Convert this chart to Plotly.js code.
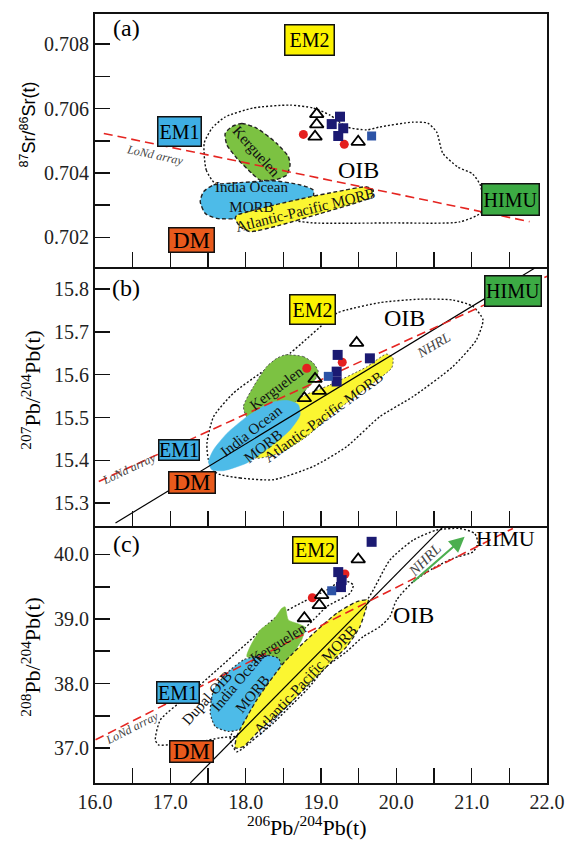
<!DOCTYPE html>
<html>
<head>
<meta charset="utf-8">
<script src="https://cdn.plot.ly/plotly-3.0.1.min.js"></script>
<style>html,body{margin:0;padding:0;background:#fff;}#chart{width:579px;height:841px;}</style>
</head>
<body>
<div id="chart"></div>
<script>
// ---------------- shared x axis ----------------
const xRange = [16, 22];
const xTickVals = [16, 17, 18, 19, 20, 21, 22];
const xTickText = ['16.0', '17.0', '18.0', '19.0', '20.0', '21.0', '22.0'];
const xMinorVals = [16.5, 17.5, 18.5, 19.5, 20.5, 21.5];

// ---------------- panel (a): 87Sr/86Sr vs 206Pb/204Pb ----------------
const aRange = [0.70108, 0.70894];
const aTickVals = [0.702, 0.704, 0.706, 0.708];
const aTickText = ['0.702', '0.704', '0.706', '0.708'];
const aMinorVals = [0.703, 0.705, 0.707];

const aOIB_x = [17.609, 17.477, 17.450, 17.556, 17.728, 18.099, 18.589, 18.894, 19.119, 19.344, 19.609, 19.781, 20.219, 20.417, 20.536, 20.616, 20.815, 21.013, 21.119, 21.132, 20.841, 19.954, 18.894, 18.629];
const aOIB_y = [0.70363, 0.70409, 0.70493, 0.70540, 0.70574, 0.70602, 0.70611, 0.70602, 0.70580, 0.70543, 0.70534, 0.70543, 0.70558, 0.70555, 0.70527, 0.70462, 0.70419, 0.70397, 0.70360, 0.70279, 0.70248, 0.70245, 0.70245, 0.70254];

const aKerg_x = [17.817, 17.950, 18.148, 18.413, 18.567, 18.589, 18.546, 18.413, 18.192, 18.082, 17.883, 17.751, 17.728];
const aKerg_y = [0.70544, 0.70554, 0.70539, 0.70492, 0.70451, 0.70425, 0.70394, 0.70380, 0.70378, 0.70399, 0.70446, 0.70487, 0.70523];

const aIndia_x = [17.441, 17.574, 17.927, 18.369, 18.722, 18.898, 18.876, 18.457, 18.016, 17.619, 17.464, 17.397];
const aIndia_y = [0.70342, 0.70363, 0.70370, 0.70376, 0.70363, 0.70347, 0.70311, 0.70274, 0.70259, 0.70259, 0.70274, 0.70311];

const aAtl_x = [17.861, 17.927, 18.060, 18.457, 18.987, 19.517, 19.672, 19.693, 19.605, 19.208, 18.854, 18.369, 18.016, 17.883];
const aAtl_y = [0.70259, 0.70233, 0.70218, 0.70238, 0.70274, 0.70311, 0.70326, 0.70347, 0.70357, 0.70342, 0.70326, 0.70300, 0.70279, 0.70269];

const aLoNd_x = [16.117, 21.768];
const aLoNd_y = [0.70523, 0.70249];

const aRed_x = [18.766, 19.309];
const aRed_y = [0.70520, 0.70489];
const aTri_x = [18.943, 18.943, 18.921, 19.494];
const aTri_y = [0.70583, 0.70551, 0.70513, 0.70497];
const aNavy_x = [19.252, 19.142, 19.295, 19.229];
const aNavy_y = [0.70575, 0.70552, 0.70539, 0.70515];
const aBlue_x = [19.672];
const aBlue_y = [0.70515];

const aBoxText = ['EM2', 'EM1', 'DM', 'HIMU'];
const aBox_x = [18.850, 17.126, 17.285, 21.517];
const aBox_y = [0.70813, 0.70529, 0.70192, 0.70318];

const aLabelText = ['OIB', 'Kerguelen', 'India Ocean<br>MORB', 'Atlantic-Pacific MORB', 'LoNd array'];
const aLabel_x = [19.494, 18.148, 18.073, 18.788, 16.801];
const aLabel_y = [0.70409, 0.70466, 0.70326, 0.70285, 0.70456];

// ---------------- panel (b): 207Pb/204Pb vs 206Pb/204Pb ----------------
const bRange = [15.247, 15.851];
const bTickVals = [15.3, 15.4, 15.5, 15.6, 15.7, 15.8];
const bTickText = ['15.3', '15.4', '15.5', '15.6', '15.7', '15.8'];

const bOIB_x = [17.619, 17.927, 18.368, 18.898, 19.340, 19.781, 20.223, 20.752, 21.062, 21.150, 21.017, 20.752, 20.311, 19.781, 19.340, 19.208, 18.589, 18.192, 17.838, 17.574, 17.486, 17.507];
const bOIB_y = [15.370, 15.359, 15.355, 15.386, 15.432, 15.502, 15.549, 15.619, 15.681, 15.728, 15.759, 15.774, 15.776, 15.768, 15.751, 15.743, 15.650, 15.603, 15.557, 15.502, 15.440, 15.401];

const bKerg_x = [18.523, 18.766, 18.898, 18.964, 18.921, 18.722, 18.699, 18.325, 18.016, 17.971, 18.103, 18.281, 18.413];
const bKerg_y = [15.646, 15.642, 15.627, 15.607, 15.588, 15.549, 15.530, 15.530, 15.502, 15.526, 15.572, 15.619, 15.638];

const bIndia_x = [17.552, 17.706, 18.016, 18.325, 18.589, 18.722, 18.699, 18.546, 18.325, 18.016, 17.751, 17.574, 17.507];
const bIndia_y = [15.378, 15.376, 15.394, 15.432, 15.471, 15.506, 15.530, 15.540, 15.534, 15.502, 15.463, 15.425, 15.397];

const bAtl_x = [18.722, 19.119, 19.605, 19.870, 19.954, 19.940, 19.605, 19.163, 18.811, 18.457, 18.148, 18.060, 18.457];
const bAtl_y = [15.546, 15.576, 15.618, 15.648, 15.639, 15.616, 15.569, 15.510, 15.456, 15.417, 15.405, 15.413, 15.495];

const bNHRL_x = [16.272, 21.834];
const bNHRL_y = [15.254, 15.848];
const bLoNd_x = [16.050, 22.033];
const bLoNd_y = [15.351, 15.832];

const bRed_x = [18.811, 19.282];
const bRed_y = [15.615, 15.629];
const bTri_x = [19.473, 18.921, 18.977, 18.779];
const bTri_y = [15.674, 15.590, 15.562, 15.545];
const bNavy_x = [19.221, 19.649, 19.208, 19.208];
const bNavy_y = [15.646, 15.638, 15.607, 15.584];
const bBlue_x = [19.097];
const bBlue_y = [15.596];

const bBoxText = ['HIMU', 'EM2', 'EM1', 'DM'];
const bBox_x = [21.543, 18.890, 17.119, 17.291];
const bBox_y = [15.795, 15.751, 15.425, 15.348];

const bLabelText = ['OIB', 'Kerguelen', 'India Ocean<br>MORB', 'Atlantic-Pacific MORB', 'NHRL', 'LoNd array'];
const bLabel_x = [20.113, 18.413, 18.152, 19.031, 20.487, 16.448];
const bLabel_y = [15.732, 15.569, 15.450, 15.502, 15.669, 15.380];

// ---------------- panel (c): 208Pb/204Pb vs 206Pb/204Pb ----------------
const cRange = [36.46, 40.44];
const cTickVals = [37, 38, 39, 40];
const cTickText = ['37.0', '38.0', '39.0', '40.0'];
const cMinorVals = [37.5, 38.5, 39.5];

const cOIB_x = [17.883, 18.148, 18.368, 18.589, 18.811, 19.075, 19.340, 19.560, 19.781, 19.914, 20.003, 20.223, 20.487, 20.752, 21.017, 21.083, 21.040, 20.841, 20.532, 20.223, 19.914, 19.627, 19.384, 18.987, 18.589, 18.192, 17.927, 17.795];
const cOIB_y = [36.944, 37.176, 37.388, 37.645, 37.903, 38.263, 38.495, 38.726, 38.881, 39.036, 39.294, 39.577, 39.784, 39.938, 40.040, 40.170, 40.325, 40.402, 40.376, 40.221, 39.912, 39.320, 39.062, 38.694, 38.289, 37.903, 37.516, 37.130];

const cDupal_x = [16.801, 16.868, 17.221, 17.619, 18.016, 18.413, 18.766, 19.075, 19.295, 19.428, 19.384, 19.075, 18.898, 18.722, 18.589, 18.457, 18.325, 18.192, 17.993, 17.662, 17.397, 17.000, 16.841];
const cDupal_y = [37.130, 37.439, 37.799, 38.212, 38.624, 39.036, 39.267, 39.448, 39.603, 39.526, 39.397, 39.190, 38.984, 38.779, 38.521, 38.315, 37.903, 37.439, 37.207, 37.160, 37.099, 37.052, 37.052];

const cKerg_x = [18.016, 18.060, 18.192, 18.368, 18.479, 18.523, 18.567, 18.678, 18.788, 18.744, 18.633, 18.523, 18.325];
const cKerg_y = [38.417, 38.572, 38.830, 38.985, 39.165, 39.190, 38.985, 38.934, 38.872, 38.676, 38.470, 38.263, 38.366];

const cIndia_x = [17.530, 17.574, 17.751, 17.971, 18.236, 18.434, 18.479, 18.413, 18.281, 18.148, 17.971, 17.772, 17.596];
const cIndia_y = [37.543, 37.903, 38.161, 38.366, 38.444, 38.393, 38.238, 38.006, 37.748, 37.490, 37.311, 37.258, 37.335];

const cAtl_x = [17.861, 17.883, 18.148, 18.501, 18.854, 19.208, 19.473, 19.627, 19.605, 19.517, 19.340, 19.075, 18.811, 18.501, 18.192, 17.971];
const cAtl_y = [37.002, 37.181, 37.748, 38.315, 38.726, 39.088, 39.267, 39.294, 39.190, 38.881, 38.572, 38.263, 37.954, 37.594, 37.285, 37.026];

const cNHRL_x = [17.265, 20.620];
const cNHRL_y = [36.461, 40.427];
const cLoNd_x = [16.007, 21.547];
const cLoNd_y = [37.130, 40.402];
const cArrowTail = [20.201, 39.552];
const cArrowHead = [20.907, 40.272];

const cRed_x = [19.318, 18.885];
const cRed_y = [39.696, 39.329];
const cTri_x = [19.494, 19.009, 18.977, 18.779];
const cTri_y = [39.923, 39.371, 39.216, 39.011];
const cNavy_x = [19.672, 19.229, 19.274, 19.265];
const cNavy_y = [40.195, 39.726, 39.602, 39.494];
const cBlue_x = [19.142];
const cBlue_y = [39.437];

const cBoxText = ['EM2', 'EM1', 'DM'];
const cBox_x = [18.925, 17.106, 17.285];
const cBox_y = [40.066, 37.856, 36.955];

const cLabelText = ['OIB', 'HIMU', 'NHRL', 'LoNd array', 'Dupal OIB', 'Kerguelen', 'India Ocean<br>MORB', 'Atlantic-Pacific MORB'];
const cLabel_x = [20.223, 21.448, 20.377, 16.492, 17.486, 18.435, 17.993, 18.788];
const cLabel_y = [39.062, 40.247, 39.912, 37.311, 37.774, 38.624, 37.929, 38.057];

// ---------------- styling ----------------
const SERIF = '"Liberation Serif", "Times New Roman", serif';
const SANS = '"Liberation Sans", Arial, sans-serif';
const COL = {
  EM2: '#fbf200', EM1: '#3eaee4', DM: '#e85a1c', HIMU: '#3caa44',
  kerg: '#7cc242', india: '#4dbbe8', atl: '#fbf631',
  red: '#e4201f', navy: '#1b1a72', blue: '#2c53a6', lond: '#e52521', arrow: '#4caf50'
};

function closed(a) { return a.concat([a[0]]); }
function region(xs, ys, xa, ya, fill, lineColor, dash, w) {
  return {
    type: 'scatter', mode: 'lines', x: closed(xs), y: closed(ys), xaxis: xa, yaxis: ya,
    fill: fill ? 'toself' : 'none', fillcolor: fill || 'rgba(0,0,0,0)',
    line: {color: lineColor, dash: dash, width: w, shape: 'spline', smoothing: 0.6},
    hoverinfo: 'skip'
  };
}
function line(xs, ys, xa, ya, color, dash, w) {
  return {type: 'scatter', mode: 'lines', x: xs, y: ys, xaxis: xa, yaxis: ya,
    line: {color: color, dash: dash, width: w}, hoverinfo: 'skip'};
}
function pts(xs, ys, xa, ya, symbol, color, size, lw) {
  return {type: 'scatter', mode: 'markers', x: xs, y: ys, xaxis: xa, yaxis: ya,
    marker: {symbol: symbol, size: size, color: color, line: {width: lw || 0, color: color}},
    hoverinfo: 'skip'};
}

const DOT = '2px,2px';
const DASH = '4px,2.5px';
const LONDDASH = '9px,5px';

const traces = [
  // panel a
  region(aOIB_x, aOIB_y, 'x', 'y', null, '#111', DOT, 1.4),
  region(aKerg_x, aKerg_y, 'x', 'y', COL.kerg, '#222', DASH, 1.4),
  region(aIndia_x, aIndia_y, 'x', 'y', COL.india, '#222', DASH, 1.4),
  region(aAtl_x, aAtl_y, 'x', 'y', COL.atl, '#222', DASH, 1.4),
  line(aLoNd_x, aLoNd_y, 'x', 'y', COL.lond, LONDDASH, 1.6),
  pts(aRed_x, aRed_y, 'x', 'y', 'circle', COL.red, 9),
  pts(aTri_x, aTri_y, 'x', 'y', 'triangle-up-open', '#000', 12, 1.8),
  pts(aNavy_x, aNavy_y, 'x', 'y', 'square', COL.navy, 10),
  pts(aBlue_x, aBlue_y, 'x', 'y', 'square', COL.blue, 9),
  // panel b
  region(bOIB_x, bOIB_y, 'x2', 'y2', null, '#111', DOT, 1.4),
  region(bKerg_x, bKerg_y, 'x2', 'y2', COL.kerg, '#555', DOT, 1),
  region(bAtl_x, bAtl_y, 'x2', 'y2', COL.atl, '#555', DOT, 1),
  region(bIndia_x, bIndia_y, 'x2', 'y2', COL.india, COL.india, 'solid', 0.5),
  line(bNHRL_x, bNHRL_y, 'x2', 'y2', '#000', 'solid', 1.2),
  line(bLoNd_x, bLoNd_y, 'x2', 'y2', COL.lond, LONDDASH, 1.6),
  pts(bRed_x, bRed_y, 'x2', 'y2', 'circle', COL.red, 9),
  pts(bTri_x, bTri_y, 'x2', 'y2', 'triangle-up-open', '#000', 12, 1.8),
  pts(bNavy_x, bNavy_y, 'x2', 'y2', 'square', COL.navy, 10),
  pts(bBlue_x, bBlue_y, 'x2', 'y2', 'square', COL.blue, 9),
  // panel c
  region(cOIB_x, cOIB_y, 'x3', 'y3', null, '#111', DOT, 1.4),
  region(cDupal_x, cDupal_y, 'x3', 'y3', null, '#111', DOT, 1.4),
  region(cKerg_x, cKerg_y, 'x3', 'y3', COL.kerg, COL.kerg, 'solid', 0.5),
  region(cIndia_x, cIndia_y, 'x3', 'y3', COL.india, '#333', DOT, 1.2),
  region(cAtl_x, cAtl_y, 'x3', 'y3', COL.atl, '#222', DASH, 1.3),
  line(cNHRL_x, cNHRL_y, 'x3', 'y3', '#000', 'solid', 1.2),
  line(cLoNd_x, cLoNd_y, 'x3', 'y3', COL.lond, LONDDASH, 1.6),
  pts(cRed_x, cRed_y, 'x3', 'y3', 'circle', COL.red, 9),
  pts(cTri_x, cTri_y, 'x3', 'y3', 'triangle-up-open', '#000', 12, 1.8),
  pts(cNavy_x, cNavy_y, 'x3', 'y3', 'square', COL.navy, 10),
  pts(cBlue_x, cBlue_y, 'x3', 'y3', 'square', COL.blue, 9)
];

// ---------------- annotations ----------------
const ann = [];
const boxColor = {EM2: COL.EM2, EM1: COL.EM1, DM: COL.DM, HIMU: COL.HIMU};
// box sizes (outer px) per panel, in order of the box arrays
const aBoxSize = [[51, 32], [45, 31], [47, 26], [59, 33]];
const bBoxSize = [[58, 32], [47, 31], [42, 22], [48, 23]];
const cBoxSize = [[46, 28], [44, 23], [45, 23]];
function addBoxes(texts, xs, ys, sizes, xr, yr) {
  texts.forEach((t, i) => {
    const fs = t === 'DM' ? 23 : 20;
    ann.push({x: xs[i], y: ys[i], xref: xr, yref: yr, text: t, showarrow: false,
      font: {family: SERIF, size: fs, color: '#000'},
      bgcolor: boxColor[t], bordercolor: '#111', borderwidth: 1.5, borderpad: 0,
      width: sizes[i][0] - 3, height: sizes[i][1] - 3, xanchor: 'center', yanchor: 'middle'});
  });
}
addBoxes(aBoxText, aBox_x, aBox_y, aBoxSize, 'x', 'y');
addBoxes(bBoxText, bBox_x, bBox_y, bBoxSize, 'x2', 'y2');
addBoxes(cBoxText, cBox_x, cBox_y, cBoxSize, 'x3', 'y3');

function labelStyle(t, xr) {
  if (t === 'OIB') return {size: 24, color: '#000', italic: false};
  if (t === 'HIMU') return {size: 22, color: '#000', italic: false};
  if (t === 'NHRL') return {size: xr === 'x3' ? 15 : 14, color: '#444', italic: true};
  if (t === 'LoNd array') return {size: 12, color: '#444', italic: true};
  return {size: 15, color: '#111', italic: false};
}
function addLabels(texts, xs, ys, angles, xr, yr) {
  texts.forEach((t, i) => {
    const s = labelStyle(t, xr);
    ann.push({x: xs[i], y: ys[i], xref: xr, yref: yr, text: s.italic ? '<i>' + t + '</i>' : t,
      showarrow: false, textangle: angles[i],
      font: {family: SERIF, size: s.size, color: s.color},
      xanchor: 'center', yanchor: 'middle'});
  });
}
addLabels(aLabelText, aLabel_x, aLabel_y, [0, 48, 0, -14, 12], 'x', 'y');
addLabels(bLabelText, bLabel_x, bLabel_y, [0, -37, -38, -36, -31, -25], 'x2', 'y2');
addLabels(cLabelText, cLabel_x, cLabel_y, [0, 0, -45, -27, -48, -32, -50, -47], 'x3', 'y3');

// green arrow in panel c
ann.push({x: cArrowHead[0], y: cArrowHead[1], ax: cArrowTail[0], ay: cArrowTail[1],
  xref: 'x3', yref: 'y3', axref: 'x3', ayref: 'y3', text: '', showarrow: true,
  arrowcolor: COL.arrow, arrowwidth: 2.2, arrowhead: 2, arrowsize: 1.4, standoff: 0});

// panel letters
[['(a)', 0.9818], ['(b)', 0.6437], ['(c)', 0.3108]].forEach(p => {
  ann.push({x: 0.0695, y: p[1], xref: 'paper', yref: 'paper', text: p[0], showarrow: false,
    font: {family: SERIF, size: 24, color: '#000'}, xanchor: 'center', yanchor: 'middle'});
});

// axis titles
ann.push({x: -0.1468, y: 0.8557, xref: 'paper', yref: 'paper', textangle: -90, showarrow: false,
  text: '<sup>87</sup>Sr/<sup>86</sup>Sr(t)', font: {family: SANS, size: 18, color: '#000'},
  xanchor: 'center', yanchor: 'middle'});
ann.push({x: -0.1423, y: 0.5111, xref: 'paper', yref: 'paper', textangle: -90, showarrow: false,
  text: '<sup>207</sup>Pb/<sup>204</sup>Pb(t)', font: {family: SERIF, size: 22, color: '#000'},
  xanchor: 'center', yanchor: 'middle'});
ann.push({x: -0.1423, y: 0.1638, xref: 'paper', yref: 'paper', textangle: -90, showarrow: false,
  text: '<sup>208</sup>Pb/<sup>204</sup>Pb(t)', font: {family: SERIF, size: 22, color: '#000'},
  xanchor: 'center', yanchor: 'middle'});
ann.push({x: 0.4689, y: -0.0559, xref: 'paper', yref: 'paper', showarrow: false,
  text: '<sup>206</sup>Pb/<sup>204</sup>Pb(t)', font: {family: SERIF, size: 22, color: '#000'},
  xanchor: 'center', yanchor: 'middle'});

// ---------------- axes ----------------
function minorTicks(vals) {
  return {tickmode: 'array', tickvals: vals, ticks: 'inside', ticklen: 15, tickwidth: 1.6,
    tickcolor: '#111', showgrid: false};
}
function axBase() {
  return {showline: true, linecolor: '#111', linewidth: 2, mirror: true,
    ticks: 'inside', ticklen: 15, tickwidth: 1.6, tickcolor: '#111',
    showgrid: false, zeroline: false, fixedrange: true,
    tickfont: {family: SERIF, size: 20, color: '#222'}};
}
function xAx(anchor, labels, mirror) {
  return Object.assign(axBase(), {anchor: anchor, domain: [0, 1], range: xRange, mirror: mirror,
    tickmode: 'array', tickvals: xTickVals, ticktext: xTickText, showticklabels: labels,
    minor: minorTicks(xMinorVals)});
}
function yAx(anchor, dom, rng, tv, tt, mv) {
  const ax = Object.assign(axBase(), {anchor: anchor, domain: dom, range: rng,
    tickmode: 'array', tickvals: tv, ticktext: tt});
  if (mv) ax.minor = minorTicks(mv);
  return ax;
}

const layout = {
  width: 579, height: 841,
  margin: {l: 94.5, r: 31.5, t: 14, b: 58, pad: 0},
  paper_bgcolor: '#fff', plot_bgcolor: '#fff', showlegend: false,
  font: {family: SERIF, size: 20, color: '#000'},
  xaxis: xAx('y', false, true),
  yaxis: yAx('x', [0.6710, 1], aRange, aTickVals, aTickText, aMinorVals),
  xaxis2: xAx('y2', false, false),
  yaxis2: yAx('x2', [0.3342, 0.6710], bRange, bTickVals, bTickText, null),
  xaxis3: xAx('y3', true, false),
  yaxis3: yAx('x3', [0, 0.3342], cRange, cTickVals, cTickText, cMinorVals),
  annotations: ann
};

Plotly.newPlot('chart', traces, layout, {staticPlot: true, displayModeBar: false});
</script>
</body>
</html>
